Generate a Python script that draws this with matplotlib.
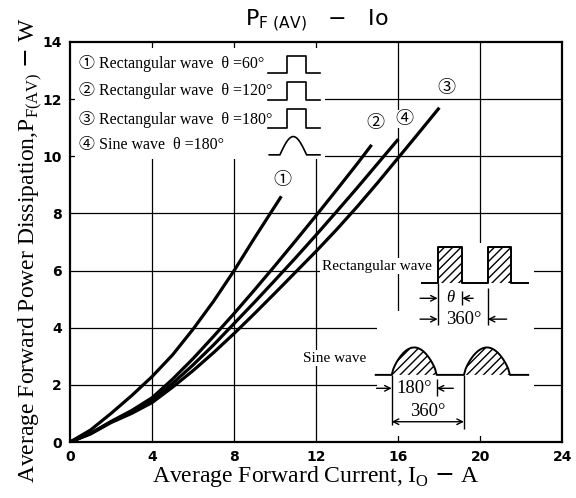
import numpy as np
import matplotlib
matplotlib.use("Agg")
import matplotlib.pyplot as plt
from matplotlib.patches import Rectangle

# curve data: average current [A] vs dissipation [W]
i_rect60 = [0, 1, 2, 3, 4, 5, 6, 7, 8, 9, 10.3]
p_rect60 = [0, 0.42, 1.0, 1.62, 2.29, 3.05, 3.95, 4.93, 6.0, 7.15, 8.6]

i_rect120 = [0, 1, 2, 3, 4, 5, 6, 7, 8, 9, 10, 11, 12, 13, 14, 14.7]
p_rect120 = [0, 0.3, 0.72, 1.1, 1.55, 2.2, 2.92, 3.7, 4.5, 5.33, 6.18, 7.05, 7.93, 8.83, 9.74, 10.4]

i_rect180 = [0, 1, 2, 3, 4, 5, 6, 7, 8, 9, 10, 11, 12, 13, 14, 15, 16, 17, 18]
p_rect180 = [0, 0.28, 0.68, 1.0, 1.38, 1.92, 2.5, 3.13, 3.8, 4.5, 5.22, 5.95, 6.68, 7.44, 8.24, 9.08, 9.95, 10.82, 11.7]

i_sine180 = [0, 1, 2, 3, 4, 5, 6, 7, 8, 9, 10, 11, 12, 13, 14, 15, 16]
p_sine180 = [0, 0.3, 0.7, 1.05, 1.45, 2.05, 2.7, 3.4, 4.15, 4.9, 5.67, 6.45, 7.25, 8.07, 8.9, 9.75, 10.6]

curve_marks = ["\u2460", "\u2461", "\u2462", "\u2463"]
legend_lines = ["Rectangular wave  \u03b8 =60\u00b0",
                "Rectangular wave  \u03b8 =120\u00b0",
                "Rectangular wave  \u03b8 =180\u00b0",
                "Sine wave  \u03b8 =180\u00b0"]

x_ticks = [0, 4, 8, 12, 16, 20, 24]
y_ticks = [0, 2, 4, 6, 8, 10, 12, 14]

serif = ["Liberation Serif", "Noto Sans CJK JP", "DejaVu Sans"]

fig = plt.figure(figsize=(5.76, 4.98), dpi=100)
ax = fig.add_axes([0.1215, 0.1124, 0.855, 0.8033])
ax.set_xlim(0, 24)
ax.set_ylim(0, 14)

# grid drawn by hand so white boxes can hide parts of it
ax.vlines(x_ticks[1:-1], 0, 14, color="black", lw=0.9, zorder=1)
ax.hlines(y_ticks[1:-1], 0, 24, color="black", lw=0.9, zorder=1)

# white areas behind the legend, insets and labels
for (x0, y0, w, h) in [(0.25, 9.9, 12.2, 3.9), (16.3, 0.2, 6.3, 6.75),
                       (14.95, 0.2, 7.6, 4.4)]:
    ax.add_patch(Rectangle((x0, y0), w, h, facecolor="white",
                           edgecolor="none", zorder=1.5))

for i, p in [(i_rect60, p_rect60), (i_rect120, p_rect120),
             (i_rect180, p_rect180), (i_sine180, p_sine180)]:
    ax.plot(i, p, color="black", lw=2.3, solid_capstyle="butt",
            solid_joinstyle="round", zorder=3)

# curve numbers
for mark, (x, y) in zip(curve_marks, [(10.33, 9.16), (14.9, 11.15),
                                      (18.35, 12.36), (16.3, 11.3)]):
    ax.text(x, y, mark, fontsize=13, family=serif, ha="center", va="center",
            zorder=4, bbox=dict(facecolor="white", edgecolor="none", pad=0.5))

# legend text and small waveform icons
leg_y = [13.25, 12.29, 11.3, 10.4]
for mark, txt, y in zip(curve_marks, legend_lines, leg_y):
    ax.text(0.45, y, mark + " " + txt, fontsize=11.5, family=serif,
            ha="left", va="center", zorder=4)

for base, top in [(12.9, 13.52), (11.97, 12.61), (10.98, 11.64)]:
    ax.plot([9.65, 10.56, 10.56, 11.5, 11.5, 12.18],
            [base, base, top, top, base, base], color="black", lw=1.2, zorder=4)
t = np.linspace(0, np.pi, 30)
bx = np.concatenate([[9.71], 10.23 + (11.53 - 10.23) * t / np.pi, [12.18]])
by = np.concatenate([[10.05], 10.05 + 0.64 * np.sin(t), [10.05]])
ax.plot(bx, by, color="black", lw=1.2, zorder=4)

# rectangular wave inset
ax.text(14.94, 6.16, "Rectangular wave", fontsize=11, family=serif,
        ha="center", va="center", zorder=4,
        bbox=dict(facecolor="white", edgecolor="none", pad=1))
rb, rt = 5.57, 6.81
ax.plot([17.14, 17.92, 17.92, 19.12, 19.12, 20.36, 20.36, 21.49, 21.49, 22.33],
        [rb, rb, rt, rt, rb, rb, rt, rt, rb, rb], color="black", lw=1.4, zorder=4)
for x0, x1 in [(17.92, 19.12), (20.36, 21.49)]:
    ax.fill([x0, x1, x1, x0], [rb, rb, rt, rt], fill=False, hatch="////",
            lw=0, zorder=4)
ax.vlines([17.92, 20.36], [4.1, 4.1], [rb, 5.4], color="black", lw=1, zorder=4)
ax.vlines([19.12], [4.8], [5.3], color="black", lw=1, zorder=4)
arrow = dict(arrowstyle="->", lw=1, color="black", shrinkA=0, shrinkB=0)
for (xa, xb, y) in [(17.06, 17.92, 5.03), (19.65, 19.12, 5.03),
                    (17.06, 17.92, 4.3), (21.28, 20.36, 4.3)]:
    ax.annotate("", xy=(xb, y), xytext=(xa, y), arrowprops=arrow, zorder=4)
ax.text(18.52, 5.03, "\u03b8", fontsize=12, family=serif, style="italic",
        ha="center", va="center", zorder=4)
ax.text(19.17, 4.3, "360\u00b0", fontsize=13.5, family=serif,
        ha="center", va="center", zorder=4)

# sine wave inset
ax.text(12.9, 2.94, "Sine wave", fontsize=11, family=serif,
        ha="center", va="center", zorder=4,
        bbox=dict(facecolor="white", edgecolor="none", pad=1))
sb, sh = 2.35, 0.96
sx = [14.9]
sy = [sb]
for x0, x1 in [(15.68, 17.87), (19.2, 21.44)]:
    hx = x0 + (x1 - x0) * t / np.pi
    hy = sb + sh * np.sin(t) ** 0.7
    sx += list(hx)
    sy += list(hy)
    ax.fill_between(hx, sb, hy, facecolor="none", hatch="////", lw=0, zorder=4)
sx.append(22.33)
sy.append(sb)
ax.plot(sx, sy, color="black", lw=1.4, zorder=4)
ax.vlines([15.68, 19.2], [0.6, 0.45], [sb, sb], color="black", lw=1, zorder=4)
ax.vlines([17.87], [1.6], [2.2], color="black", lw=1, zorder=4)
for (xa, xb, y) in [(14.94, 15.68, 1.88), (18.68, 17.87, 1.88)]:
    ax.annotate("", xy=(xb, y), xytext=(xa, y), arrowprops=arrow, zorder=4)
ax.annotate("", xy=(15.68, 0.71), xytext=(19.2, 0.71),
            arrowprops=dict(arrowstyle="<->", lw=1, color="black",
                            shrinkA=0, shrinkB=0), zorder=4)
ax.text(16.78, 1.88, "180\u00b0", fontsize=13.5, family=serif,
        ha="center", va="center", zorder=4)
ax.text(17.44, 1.06, "360\u00b0", fontsize=13.5, family=serif,
        ha="center", va="center", zorder=4)

ax.set_xticks(x_ticks)
ax.set_yticks(y_ticks)
ax.tick_params(length=0, labelsize=10, pad=6)
for lab in ax.get_xticklabels() + ax.get_yticklabels():
    lab.set_fontweight("bold")
for s in ax.spines.values():
    s.set_linewidth(1.6)
    s.set_zorder(5)

fig.text(0.55, 0.958, r"$\mathsf{P_{F\ (AV)}}$   $-$   Io", fontsize=16,
         ha="center", va="center")
fig.text(0.547, 0.044, r"Average Forward Current, I$_\mathregular{O}$ $-$ A",
         fontsize=17, family="Liberation Serif", ha="center", va="center")
fig.text(0.052, 0.498,
         r"Average Forward Power Dissipation,P$_\mathregular{F(AV)}$ $-$ W",
         fontsize=17, family="Liberation Serif", rotation=90,
         ha="center", va="center")

fig.savefig("out.png", dpi=100)
